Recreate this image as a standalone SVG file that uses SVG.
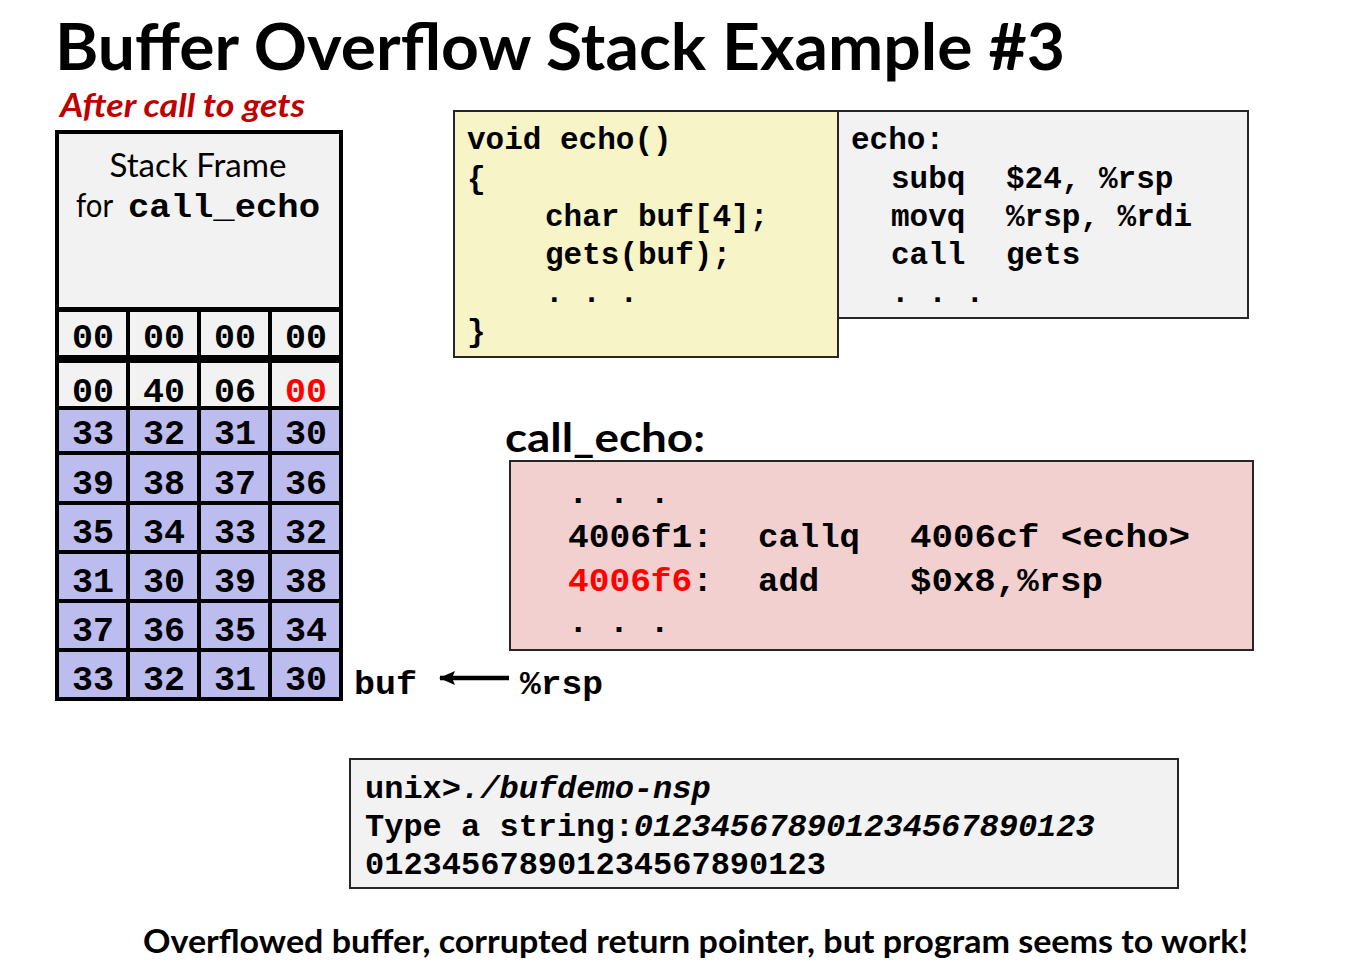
<svg xmlns="http://www.w3.org/2000/svg" width="1358" height="963" viewBox="0 0 1358 963">
<style>
.title{font-family:Lato,"Open Sans","Liberation Sans",sans-serif;font-weight:bold;fill:#000}
.sub{font-family:Lato,"Open Sans","Liberation Sans",sans-serif;font-weight:bold;font-style:italic;fill:#c00000}
.sans{font-family:Lato,"Open Sans","Liberation Sans",sans-serif;fill:#000}
.mono{font-family:"Liberation Mono","DejaVu Sans Mono",monospace;font-weight:bold;fill:#000}
.cell{font-family:"Liberation Mono","DejaVu Sans Mono",monospace;font-weight:bold;font-size:35px;text-anchor:middle;fill:#000}
.red{fill:#ff0000}
.gray{fill:#f2f2f2;stroke:#000;stroke-width:4}
.pur{fill:#bcbcee;stroke:#000;stroke-width:4}
.box{stroke:#262626;stroke-width:2}
</style>
<defs>
<marker id="ah" markerWidth="16" markerHeight="14" refX="15" refY="7" orient="auto" markerUnits="userSpaceOnUse">
<path d="M0,0 L16,7 L0,14 L3,7 Z" fill="#000"/>
</marker>
</defs>
<rect width="1358" height="963" fill="#fff"/>

<text class="title" x="55" y="70" font-size="65" textLength="1010" lengthAdjust="spacingAndGlyphs">Buffer Overflow Stack Example #3</text>
<text class="sub" x="60" y="117" font-size="32" textLength="245" lengthAdjust="spacingAndGlyphs">After call to gets</text>

<g id="stack">
<rect class="gray" x="57" y="132" width="284" height="177"/>
<text class="sans" x="198" y="177" font-size="32" text-anchor="middle" textLength="177" lengthAdjust="spacingAndGlyphs">Stack Frame</text>
<text x="76" y="217" font-size="32"><tspan class="sans" textLength="44" lengthAdjust="spacingAndGlyphs">for </tspan><tspan class="mono" x="128" font-size="33" textLength="192" lengthAdjust="spacingAndGlyphs">call_echo</tspan></text>

<g id="row1">
<rect class="gray" x="57" y="310" width="71" height="47"/>
<rect class="gray" x="128" y="310" width="71" height="47"/>
<rect class="gray" x="199" y="310" width="71" height="47"/>
<rect class="gray" x="270" y="310" width="71" height="47"/>
<text class="cell" x="93" y="348">00</text>
<text class="cell" x="164" y="348">00</text>
<text class="cell" x="235" y="348">00</text>
<text class="cell" x="306" y="348">00</text>
</g>
<g id="row2">
<rect class="gray" x="57" y="361" width="71" height="47"/>
<rect class="gray" x="128" y="361" width="71" height="47"/>
<rect class="gray" x="199" y="361" width="71" height="47"/>
<rect class="gray" x="270" y="361" width="71" height="47"/>
<text class="cell" x="93" y="402">00</text>
<text class="cell" x="164" y="402">40</text>
<text class="cell" x="235" y="402">06</text>
<text class="cell red" x="306" y="402">00</text>
</g>
<g id="row3">
<rect class="pur" x="57" y="408" width="71" height="45"/>
<rect class="pur" x="128" y="408" width="71" height="45"/>
<rect class="pur" x="199" y="408" width="71" height="45"/>
<rect class="pur" x="270" y="408" width="71" height="45"/>
<text class="cell" x="93" y="444">33</text>
<text class="cell" x="164" y="444">32</text>
<text class="cell" x="235" y="444">31</text>
<text class="cell" x="306" y="444">30</text>
</g>
<g id="row4">
<rect class="pur" x="57" y="453" width="71" height="50"/>
<rect class="pur" x="128" y="453" width="71" height="50"/>
<rect class="pur" x="199" y="453" width="71" height="50"/>
<rect class="pur" x="270" y="453" width="71" height="50"/>
<text class="cell" x="93" y="494">39</text>
<text class="cell" x="164" y="494">38</text>
<text class="cell" x="235" y="494">37</text>
<text class="cell" x="306" y="494">36</text>
</g>
<g id="row5">
<rect class="pur" x="57" y="503" width="71" height="49"/>
<rect class="pur" x="128" y="503" width="71" height="49"/>
<rect class="pur" x="199" y="503" width="71" height="49"/>
<rect class="pur" x="270" y="503" width="71" height="49"/>
<text class="cell" x="93" y="543">35</text>
<text class="cell" x="164" y="543">34</text>
<text class="cell" x="235" y="543">33</text>
<text class="cell" x="306" y="543">32</text>
</g>
<g id="row6">
<rect class="pur" x="57" y="552" width="71" height="49"/>
<rect class="pur" x="128" y="552" width="71" height="49"/>
<rect class="pur" x="199" y="552" width="71" height="49"/>
<rect class="pur" x="270" y="552" width="71" height="49"/>
<text class="cell" x="93" y="592">31</text>
<text class="cell" x="164" y="592">30</text>
<text class="cell" x="235" y="592">39</text>
<text class="cell" x="306" y="592">38</text>
</g>
<g id="row7">
<rect class="pur" x="57" y="601" width="71" height="49"/>
<rect class="pur" x="128" y="601" width="71" height="49"/>
<rect class="pur" x="199" y="601" width="71" height="49"/>
<rect class="pur" x="270" y="601" width="71" height="49"/>
<text class="cell" x="93" y="641">37</text>
<text class="cell" x="164" y="641">36</text>
<text class="cell" x="235" y="641">35</text>
<text class="cell" x="306" y="641">34</text>
</g>
<g id="row8">
<rect class="pur" x="57" y="650" width="71" height="49"/>
<rect class="pur" x="128" y="650" width="71" height="49"/>
<rect class="pur" x="199" y="650" width="71" height="49"/>
<rect class="pur" x="270" y="650" width="71" height="49"/>
<text class="cell" x="93" y="690">33</text>
<text class="cell" x="164" y="690">32</text>
<text class="cell" x="235" y="690">31</text>
<text class="cell" x="306" y="690">30</text>
</g>
</g>

<g id="c-code">
<rect class="box" x="454" y="111" width="384" height="246" fill="#f7f4c8"/>
<text class="mono" x="467" y="149" font-size="31">void echo()</text>
<text class="mono" x="467" y="188" font-size="31">{</text>
<text class="mono" x="545" y="226" font-size="31">char buf[4];</text>
<text class="mono" x="545" y="264" font-size="31">gets(buf);</text>
<text class="mono" x="545" y="302" font-size="31">. . .</text>
<text class="mono" x="467" y="341" font-size="31">}</text>
</g>

<g id="echo-asm">
<rect class="box" x="838" y="111" width="410" height="207" fill="#f2f2f2"/>
<text class="mono" x="851" y="149" font-size="31">echo:</text>
<text class="mono" x="891" y="188" font-size="31">subq</text>
<text class="mono" x="1006" y="188" font-size="31">$24, %rsp</text>
<text class="mono" x="891" y="226" font-size="31">movq</text>
<text class="mono" x="1006" y="226" font-size="31">%rsp, %rdi</text>
<text class="mono" x="891" y="264" font-size="31">call</text>
<text class="mono" x="1006" y="264" font-size="31">gets</text>
<text class="mono" x="891" y="302" font-size="31">. . .</text>
</g>

<g id="call-echo">
<text class="title" x="505" y="452" font-size="40" textLength="200" lengthAdjust="spacingAndGlyphs">call_echo:</text>
<rect class="box" x="510" y="461" width="743" height="189" fill="#f2d0d0"/>
<text class="mono" x="568" y="503" font-size="34">. . .</text>
<text class="mono" x="568" y="547" font-size="34" textLength="145" lengthAdjust="spacingAndGlyphs">4006f1:</text>
<text class="mono" x="758" y="547" font-size="34">callq</text>
<text class="mono" x="910" y="547" font-size="34" textLength="280" lengthAdjust="spacingAndGlyphs">4006cf &lt;echo&gt;</text>
<text class="mono" x="568" y="591" font-size="34" textLength="145" lengthAdjust="spacingAndGlyphs"><tspan class="red">4006f6</tspan>:</text>
<text class="mono" x="758" y="591" font-size="34">add</text>
<text class="mono" x="910" y="591" font-size="34" textLength="193" lengthAdjust="spacingAndGlyphs">$0x8,%rsp</text>
<text class="mono" x="568" y="632" font-size="34">. . .</text>
</g>

<g id="pointer">
<text class="mono" x="354" y="694" font-size="34" textLength="63" lengthAdjust="spacingAndGlyphs">buf</text>
<text class="mono" x="520" y="694" font-size="34" textLength="83" lengthAdjust="spacingAndGlyphs">%rsp</text>
</g>

<g id="connectors">
<line x1="509" y1="678" x2="440" y2="678" stroke="#000" stroke-width="4.5" marker-end="url(#ah)"/>
</g>

<g id="terminal">
<rect class="box" x="350" y="759" width="828" height="129" fill="#f2f2f2"/>
<text class="mono" x="365" y="798" font-size="32">unix&gt;<tspan font-style="italic">./bufdemo-nsp</tspan></text>
<text class="mono" x="365" y="836" font-size="32">Type a string:<tspan font-style="italic">012345678901234567890123</tspan></text>
<text class="mono" x="365" y="874" font-size="32">012345678901234567890123</text>
</g>

<text class="title" x="143" y="953" font-size="32" textLength="1105" lengthAdjust="spacingAndGlyphs">Overflowed buffer, corrupted return pointer, but program seems to work!</text>
</svg>
